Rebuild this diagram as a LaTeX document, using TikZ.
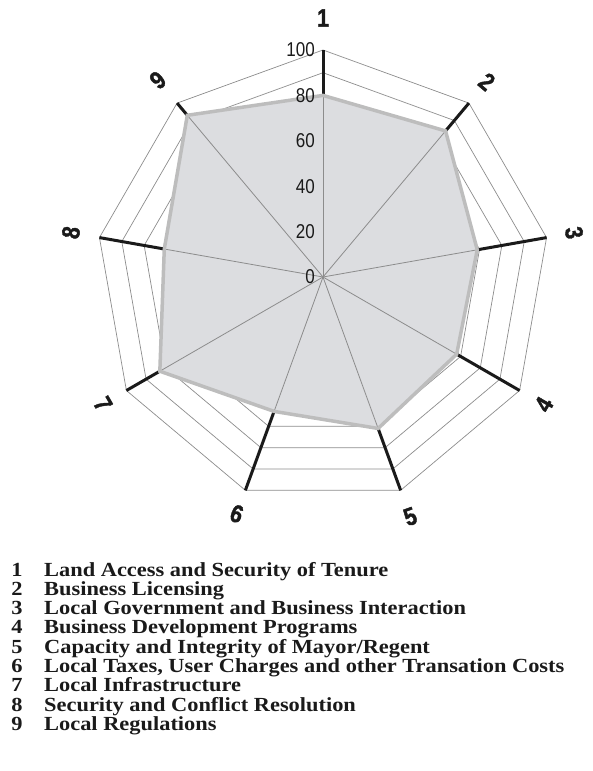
\documentclass[tikz,border=0pt]{standalone}
\usepackage{fontspec}
\setmainfont{Liberation Serif}
\newfontfamily\condfont[FakeStretch=0.85]{Liberation Sans}
\newfontfamily\condbold[FakeStretch=0.85,FakeBold=1.5]{Liberation Sans Bold}
\newfontfamily\legendfont[FakeStretch=1.12]{Liberation Serif Bold}
\definecolor{gridgray}{HTML}{8C8C8C}
\definecolor{fillgray}{HTML}{DCDDE0}
\definecolor{linegray}{HTML}{BDBDBD}
\definecolor{inkblack}{HTML}{1A1A1A}
\tikzset{
  gridline/.style={draw=gridgray, line width=0.7pt, line join=miter},
  axisline/.style={draw=gridgray, line width=0.8pt},
  dataarea/.style={fill=fillgray},
  dataline/.style={draw=linegray, line width=3.5pt, line join=miter},
  tailline/.style={draw=inkblack, line width=3pt},
  axislabel/.style={font=\condbold\fontsize{25}{25}\selectfont, inner sep=0pt, text=inkblack},
  ticklabel/.style={font=\condfont\fontsize{20}{20}\selectfont, inner sep=0pt, anchor=east, text=inkblack},
  legendnum/.style={font=\legendfont\fontsize{20}{20}\selectfont, inner sep=0pt, anchor=base, text=inkblack},
  legendtext/.style={font=\legendfont\fontsize{20}{20}\selectfont, inner sep=0pt, anchor=base west, text=inkblack},
}
\begin{document}
\begin{tikzpicture}[x=1pt,y=1pt]
\useasboundingbox (0,0) rectangle (592,-771);
\begin{scope}[shift={(323,-277)}]
  \coordinate (O) at (0,0);
  % grid rings every 10 units (radius 227 = 100)
  \foreach \k in {1,...,10}{
    \draw[gridline] (90:\k*22.7) -- (50:\k*22.7) -- (10:\k*22.7) -- (-30:\k*22.7) -- (-70:\k*22.7)
      -- (-110:\k*22.7) -- (-150:\k*22.7) -- (170:\k*22.7) -- (130:\k*22.7) -- cycle;
  }
  % data and outer points
  \foreach \i/\v in {1/80,2/84,3/69,4/68,5/71,6/63,7/83,8/71,9/93}{
    \coordinate (d\i) at ({90-40*(\i-1)}:{\v*2.27});
    \coordinate (o\i) at ({90-40*(\i-1)}:227);
  }
  \fill[dataarea] (d1) -- (d2) -- (d3) -- (d4) -- (d5) -- (d6) -- (d7) -- (d8) -- (d9) -- cycle;
  \foreach \i in {1,...,9}{
    \draw[axisline] (O) -- (d\i);
  }
  \foreach \i in {1,...,9}{
    \draw[tailline] (d\i) -- (o\i);
  }
  \draw[dataline] (d1) -- (d2) -- (d3) -- (d4) -- (d5) -- (d6) -- (d7) -- (d8) -- (d9) -- cycle;
  % tick labels
  \foreach \t in {0,20,40,60,80,100}{
    \node[ticklabel] (t\t) at (-8,{\t*2.27}) {\t};
  }
  % axis labels
  \node[axislabel] (a1) at (90:259) {1};
  \node[axislabel, rotate=-40] (a2) at (50:255) {2};
  \node[axislabel, rotate=-80] (a3) at (10:255) {3};
  \node[axislabel, rotate=60] (a4) at (-30:255) {4};
  \node[axislabel, rotate=20] (a5) at (-70:255) {5};
  \node[axislabel, rotate=-20] (a6) at (-110:252) {6};
  \node[axislabel, rotate=-60] (a7) at (-150:254) {7};
  \node[axislabel, rotate=80] (a8) at (170:256) {8};
  \node[axislabel, rotate=40] (a9) at (130:257) {9};
\end{scope}
% legend
\foreach \n/\txt [count=\j from 0] in {
  1/Land Access and Security of Tenure,
  2/Business Licensing,
  3/Local Government and Business Interaction,
  4/Business Development Programs,
  5/Capacity and Integrity of Mayor\slash Regent,
  6/{Local Taxes, User Charges and other Transation Costs},
  7/Local Infrastructure,
  8/Security and Conflict Resolution,
  9/Local Regulations}{
  \node[legendnum] (n\n) at (17,{-576-19.3*\j}) {\n};
  \node[legendtext] (l\n) at (44,{-576-19.3*\j}) {\txt};
}
\end{tikzpicture}
\end{document}
